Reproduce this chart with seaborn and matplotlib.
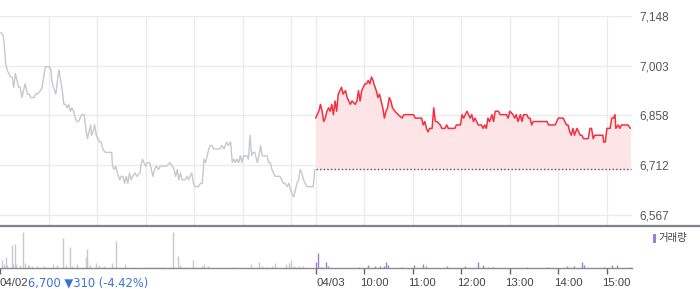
import matplotlib
matplotlib.use("Agg")
import matplotlib.pyplot as plt
import matplotlib.transforms as mtransforms
from matplotlib.lines import Line2D
from matplotlib.patches import Rectangle
import seaborn as sns
import pandas as pd

# ---------------- data ----------------
# minutes counted from 09:00 of 04/02 (04/03 09:00 = 390)
prev_minutes = [1, 4, 5, 6, 7, 9, 11, 13, 15, 17, 19, 21, 23, 25, 27, 29, 31, 34, 36, 38,
                40, 42, 44, 46, 50, 52, 54, 56, 58, 61, 63, 64, 66, 69, 71, 72, 73, 75, 77, 79,
                81, 83, 85, 87, 89, 91, 93, 95, 97, 99, 101, 104, 106, 108, 110, 112, 113, 115, 117, 119,
                121, 123, 125, 127, 130, 132, 138, 139, 141, 143, 145, 148, 150, 152, 154, 156, 158, 160, 162, 164,
                167, 169, 173, 174, 176, 178, 180, 182, 185, 187, 189, 191, 193, 196, 198, 202, 206, 210, 213, 215,
                217, 219, 221, 223, 225, 229, 231, 233, 235, 237, 239, 241, 245, 248, 250, 252, 254, 256, 258, 260,
                262, 264, 272, 274, 277, 280, 282, 285, 287, 289, 291, 293, 295, 297, 299, 301, 305, 307, 309, 311,
                313, 315, 318, 320, 322, 324, 326, 330, 332, 334, 336, 338, 340, 346, 348, 350, 352, 355, 357, 359,
                361, 363, 365, 367, 369, 371, 373, 375, 377, 379, 387, 389]
prev_prices = [7100, 7090, 7070, 7040, 7010, 6990, 6980, 6970, 6970, 6940, 6980, 6960, 6940, 6940, 6910, 6930, 6950, 6920, 6920, 6910,
               6910, 6910, 6920, 6920, 6930, 6940, 6970, 7000, 7000, 7000, 6990, 6960, 6940, 6920, 6960, 6980, 6990, 6960, 6930, 6890,
               6890, 6880, 6890, 6870, 6880, 6870, 6850, 6840, 6840, 6850, 6860, 6860, 6820, 6790, 6810, 6830, 6800, 6810, 6830, 6800,
               6790, 6780, 6780, 6760, 6750, 6750, 6750, 6710, 6700, 6710, 6690, 6670, 6680, 6680, 6660, 6680, 6660, 6690, 6670, 6680,
               6690, 6680, 6690, 6710, 6730, 6720, 6710, 6720, 6720, 6700, 6680, 6700, 6710, 6700, 6710, 6710, 6710, 6720, 6710, 6700,
               6680, 6700, 6670, 6690, 6670, 6670, 6680, 6670, 6680, 6690, 6660, 6650, 6650, 6660, 6660, 6730, 6720, 6740, 6760, 6770,
               6770, 6760, 6760, 6770, 6760, 6780, 6770, 6780, 6720, 6730, 6720, 6730, 6720, 6740, 6720, 6740, 6740, 6730, 6800, 6740,
               6750, 6750, 6720, 6740, 6770, 6740, 6740, 6740, 6720, 6720, 6700, 6690, 6680, 6680, 6670, 6660, 6660, 6650, 6660, 6640,
               6630, 6620, 6640, 6660, 6670, 6700, 6690, 6670, 6660, 6650, 6650, 6700]

today_minutes = [390, 394, 396, 398, 400, 402, 404, 406, 408, 410, 412, 414, 416, 418, 420, 422, 424, 427, 429, 431,
                 433, 435, 439, 441, 443, 445, 447, 449, 451, 453, 455, 457, 459, 461, 462, 465, 467, 469, 471, 473,
                 475, 477, 479, 481, 483, 485, 488, 492, 497, 499, 511, 513, 521, 523, 525, 527, 529, 531, 534, 536,
                 538, 540, 544, 546, 550, 552, 554, 562, 564, 569, 571, 573, 575, 577, 579, 581, 583, 585, 587, 589,
                 591, 595, 597, 599, 601, 603, 605, 608, 610, 612, 616, 618, 626, 628, 630, 634, 636, 638, 640, 643,
                 645, 647, 651, 653, 655, 657, 659, 676, 678, 686, 688, 690, 696, 698, 700, 702, 704, 706, 708, 710,
                 713, 715, 717, 719, 721, 723, 727, 729, 731, 733, 735, 741, 745, 746, 748, 750, 754, 756, 758, 760,
                 761, 764, 766, 768, 776, 779]
today_prices = [6850, 6870, 6890, 6870, 6840, 6850, 6870, 6880, 6870, 6890, 6860, 6900, 6870, 6920, 6930, 6940, 6920, 6930, 6910, 6900,
                6890, 6900, 6890, 6900, 6930, 6900, 6930, 6940, 6950, 6950, 6960, 6950, 6970, 6960, 6950, 6930, 6910, 6920, 6900, 6880,
                6850, 6870, 6880, 6910, 6900, 6880, 6870, 6860, 6850, 6860, 6860, 6850, 6850, 6830, 6840, 6820, 6810, 6820, 6820, 6880,
                6840, 6840, 6830, 6820, 6820, 6830, 6820, 6820, 6830, 6830, 6860, 6850, 6860, 6870, 6860, 6850, 6860, 6840, 6850, 6840,
                6830, 6830, 6820, 6830, 6820, 6850, 6840, 6860, 6840, 6870, 6870, 6860, 6860, 6850, 6870, 6860, 6850, 6860, 6840, 6860,
                6840, 6860, 6860, 6850, 6850, 6830, 6840, 6840, 6830, 6830, 6840, 6850, 6850, 6840, 6830, 6830, 6810, 6800, 6820, 6800,
                6820, 6810, 6800, 6800, 6790, 6790, 6790, 6820, 6820, 6790, 6800, 6800, 6800, 6780, 6780, 6820, 6820, 6850, 6850, 6860,
                6820, 6830, 6820, 6830, 6830, 6820]

prev_close = 6700

prev_vol_minutes = [3, 5, 7, 9, 15, 16, 18, 20, 25, 28, 31, 34, 36, 39, 46, 54, 66, 71, 78, 81,
                    86, 89, 95, 106, 107, 108, 111, 119, 122, 128, 139, 143, 154, 165, 178, 184, 190, 196, 202, 211,
                    214, 220, 223, 229, 239, 243, 250, 252, 257, 288, 310, 320, 324, 330, 336, 340, 353, 357, 359, 363,
                    369, 375]
prev_volume = [24000, 12000, 33000, 9000, 69000, 12000, 72000, 12000, 9000, 108000, 15000, 9000, 9000, 6000, 6000, 6000, 12000, 9000, 90000, 9000,
               63000, 6000, 12000, 33000, 57000, 24000, 9000, 15000, 9000, 6000, 15000, 81000, 12000, 3000, 3000, 3000, 3000, 3000, 3000, 3000,
               108000, 36000, 9000, 3000, 24000, 3000, 6000, 12000, 6000, 3000, 12000, 18000, 6000, 3000, 6000, 15000, 12000, 15000, 24000, 6000,
               6000, 6000]

today_vol_minutes = [390, 393, 397, 403, 405, 444, 455, 464, 469, 474, 477, 480, 497, 512, 523, 527, 553, 575, 591, 597,
                     603, 609, 651, 676, 701, 709, 719, 722, 746, 756, 762, 778]
today_volume = [18000, 45000, 3000, 18000, 6000, 3000, 9000, 6000, 6000, 6000, 18000, 9000, 3000, 9000, 12000, 6000, 6000, 6000, 18000, 9000,
                3000, 3000, 3000, 3000, 6000, 6000, 18000, 9000, 3000, 9000, 9000, 3000]

y_ticks = [6567, 6712, 6858, 7003, 7148]
y_tick_labels = ["6,567", "6,712", "6,858", "7,003", "7,148"]
grid_minutes = [60, 120, 180, 240, 300, 360, 390, 450, 510, 570, 630, 690, 750]
x_tick_minutes = [0, 390, 450, 510, 570, 630, 690, 750]
x_tick_labels = ["04/02", "04/03", "10:00", "11:00", "12:00", "13:00", "14:00", "15:00"]
info_text = "6,700 \u25bc310 (-4.42%)"
legend_label = "거래량"

# ---------------- style ----------------
sns.set_theme(style="white")
plt.rcParams["font.family"] = ["Liberation Sans", "DejaVu Sans", "Noto Sans CJK KR"]

W, H = 700, 289
fig = plt.figure(figsize=(W / 100, H / 100), dpi=100)

def fx(px):
    return px / W

def fy(py):
    return 1 - py / H

ax_left, ax_right = 0, 632
XMIN, XMAX = 0, 781

ax = fig.add_axes([fx(ax_left), fy(225), fx(ax_right - ax_left), fy(16) - fy(225)])
axv = fig.add_axes([fx(ax_left), fy(268), fx(ax_right - ax_left), fy(226) - fy(268)])

grid_c = "#ebebeb"
gray_line = "#c6c8cd"
red = "#f5303e"
fill_c = "#fde4e7"
purple = "#9a80d2"
label_c = "#555555"

prev_df = pd.DataFrame({"minute": prev_minutes, "price": prev_prices})
today_df = pd.DataFrame({"minute": today_minutes, "price": today_prices})

# grid
for t in y_ticks:
    ax.axhline(t, color=grid_c, lw=1, zorder=0)
for m in grid_minutes:
    ax.axvline(m, color=grid_c, lw=1, zorder=0)

ax.fill_between(today_df["minute"], today_df["price"], prev_close, color=fill_c, lw=0, zorder=1)
ax.plot([390, 780], [prev_close, prev_close], color="#555555", lw=1, dashes=(1, 1.6), zorder=2)

sns.lineplot(data=prev_df, x="minute", y="price", ax=ax, color=gray_line, lw=1,
             estimator=None, sort=False, zorder=3)
sns.lineplot(data=today_df, x="minute", y="price", ax=ax, color=red, lw=1.1,
             estimator=None, sort=False, zorder=4)

ax.set_xlim(XMIN, XMAX)
ax.set_ylim(6538, 7148)
ax.yaxis.tick_right()
ax.set_yticks(y_ticks)
ax.set_yticklabels(y_tick_labels)
ax.tick_params(axis="y", length=0, pad=5, labelsize=8.5, labelcolor=label_c)
ax.set_xticks([])
ax.set_xlabel("")
ax.set_ylabel("")
for s in ax.spines.values():
    s.set_visible(False)
for lab in ax.get_yticklabels():
    lab.set_clip_on(False)

# volume
axv.vlines(prev_vol_minutes, 0, prev_volume, color="#c8c9cd", lw=1)
axv.vlines(today_vol_minutes, 0, today_volume, color=purple, lw=1)
axv.set_xlim(XMIN, XMAX)
axv.set_ylim(0, 126000)
axv.set_yticks([])
axv.set_xticks(x_tick_minutes)
axv.set_xticklabels([])
axv.tick_params(axis="x", direction="out", length=4, width=1, color="#666666", bottom=True)
for k in ["top", "left", "right"]:
    axv.spines[k].set_visible(False)
axv.spines["bottom"].set_color("#8a8a8a")
axv.spines["bottom"].set_linewidth(1)

# x labels
for m, lab in zip(x_tick_minutes, x_tick_labels):
    if m == 0:
        off = -1.0
    elif m == 390:
        off = 0.5
    else:
        off = -4.5
    tr = mtransforms.blended_transform_factory(axv.transData, fig.transFigure) + \
        mtransforms.ScaledTranslation(off / 100, 0, fig.dpi_scale_trans)
    fig.text(m, fy(283), lab, transform=tr, ha="left", va="center",
             fontsize=8.2, color="#444444")

fig.text(fx(28), fy(283), info_text, ha="left", va="center", fontsize=8.3,
         color="#3a73cf", family=["DejaVu Sans"])

# separator line between panels
fig.add_artist(Line2D([0, 1], [fy(225.5), fy(225.5)], transform=fig.transFigure,
                      color="#7f848b", lw=1.6))

# legend
fig.add_artist(Rectangle((fx(653), fy(243)), fx(3), fy(234) - fy(243),
                         transform=fig.transFigure, color=purple, lw=0))
fig.text(fx(658.5), fy(238.5), legend_label, ha="left", va="center", fontsize=7.5,
         color="#444444", family=["Noto Sans CJK KR", "DejaVu Sans"])

fig.savefig("out.png", dpi=100)
